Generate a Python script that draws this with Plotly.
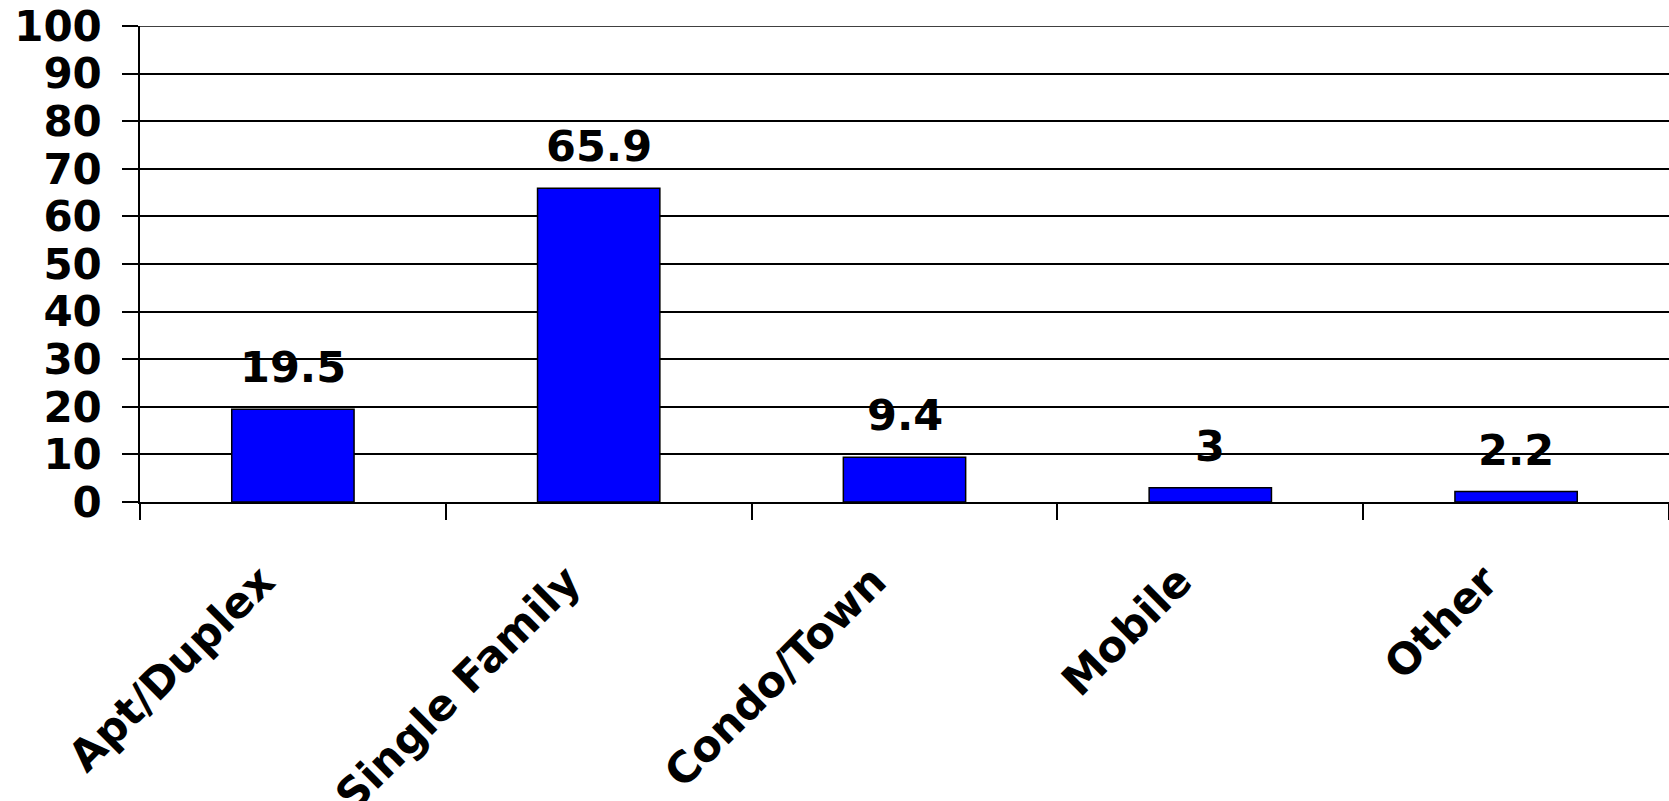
import plotly.graph_objects as go

categories = ["Apt/Duplex", "Single Family", "Condo/Town", "Mobile", "Other"]
values = [19.5, 65.9, 9.4, 3, 2.2]
value_labels = ["19.5", "65.9", "9.4", "3", "2.2"]
y_ticks = [0, 10, 20, 30, 40, 50, 60, 70, 80, 90, 100]

FONT = "DejaVu Sans"

fig = go.Figure()
fig.add_trace(go.Bar(
    x=categories, y=values,
    marker=dict(color="#0000FF", line=dict(color="black", width=1.5)),
    hoverinfo="skip",
))

for c, v, t in zip(categories, values, value_labels):
    fig.add_annotation(x=c, y=v, text=t, showarrow=False, xanchor="center",
                       yanchor="bottom", yshift=15,
                       font=dict(family=FONT, size=43, color="black", weight="bold"))

# top gridline at 100 (plotly omits the grid line at the plot edge)
fig.add_shape(type="line", xref="paper", yref="y", x0=0, x1=1, y0=y_ticks[-1], y1=y_ticks[-1],
              line=dict(color="black", width=1.5), layer="above")

fig.update_layout(
    width=1669, height=801,
    margin=dict(l=140, r=0, t=26, b=299),
    plot_bgcolor="white", paper_bgcolor="white",
    bargap=0.6, showlegend=False,
    xaxis=dict(
        type="category", tickson="boundaries", ticks="outside", ticklen=16,
        tickcolor="black", tickwidth=1.5, tickangle=-45,
        showline=True, linecolor="black", linewidth=1.5,
        showgrid=False, automargin=False,
        tickfont=dict(family=FONT, size=43, color="black", weight="bold"),
        ticklabelstandoff=35, ticklabelshift=-31,
    ),
    yaxis=dict(
        range=[0, 100], tickvals=y_ticks, ticktext=[str(v) for v in y_ticks],
        ticks="outside", ticklen=16, tickcolor="black", tickwidth=1.5,
        showgrid=True, gridcolor="black", gridwidth=1.5,
        showline=True, linecolor="black", linewidth=1.5,
        zeroline=False, automargin=False,
        tickfont=dict(family=FONT, size=42, color="black", weight="bold"),
        ticklabelstandoff=12,
    ),
)

fig.write_html("out.html", config={"displayModeBar": False},
               post_script="document.body.style.margin='0';")
